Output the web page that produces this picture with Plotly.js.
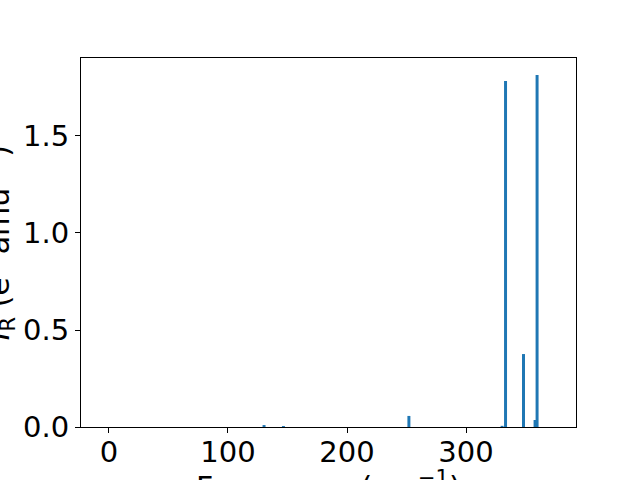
<!DOCTYPE html>
<html>
<head>
<meta charset="utf-8">
<script src="https://cdn.plot.ly/plotly-3.0.1.min.js"></script>
<style>html,body{margin:0;padding:0;background:#fff;}#chart{width:640px;height:480px;}</style>
</head>
<body>
<div id="chart"></div>
<script>
const frequencies = [130.3, 146.6, 252.0, 330.3, 333.2, 348.3, 358.0, 359.7];
const intensities = [0.010, 0.005, 0.057, 0.006, 1.783, 0.376, 0.036, 1.814];
const xTicks = [0, 100, 200, 300];
const yTicks = [0, 0.5, 1.0, 1.5];

const font = {family: 'DejaVu Sans', size: 29, color: '#000'};
const titleFont = {family: 'DejaVu Sans', size: 30, color: '#000'};

const trace = {
  type: 'bar',
  x: frequencies,
  y: intensities,
  width: 2.5,
  marker: {color: '#1f77b4', line: {width: 0}},
  hoverinfo: 'skip'
};

const layout = {
  width: 640, height: 480,
  margin: {l: 81, r: 64, t: 58, b: 53, pad: 0},
  paper_bgcolor: '#fff', plot_bgcolor: '#fff',
  showlegend: false,
  font: font,
  xaxis: {
    range: [-23.5, 392.4],
    tickvals: xTicks,
    ticks: 'outside', ticklen: 5, tickwidth: 1, tickcolor: '#000',
    ticklabelstandoff: -6,
    showgrid: false, zeroline: false,
    showline: true, mirror: true, linecolor: '#000', linewidth: 1,
    tickfont: font
  },
  yaxis: {
    range: [0, 1.902],
    tickvals: yTicks,
    tickformat: '.1f',
    ticks: 'outside', ticklen: 5, tickwidth: 1, tickcolor: '#000',
    showgrid: false, zeroline: false,
    showline: true, mirror: true, linecolor: '#000', linewidth: 1,
    tickfont: font
  },
  annotations: [
    {
      text: '<i>I</i><sub>R</sub> (e<sup>2</sup> amu<sup>−1</sup>)',
      xref: 'paper', yref: 'paper', x: -0.166, y: 0.5,
      xanchor: 'center', yanchor: 'middle', textangle: -90,
      showarrow: false, font: titleFont
    },
    {
      text: 'Frequency (cm<sup>−1</sup>)',
      xref: 'paper', yref: 'paper', x: 0.5, y: -0.1,
      xanchor: 'center', yanchor: 'top',
      showarrow: false, font: titleFont
    }
  ]
};

Plotly.newPlot('chart', [trace], layout, {displayModeBar: false, staticPlot: true});
</script>
</body>
</html>
